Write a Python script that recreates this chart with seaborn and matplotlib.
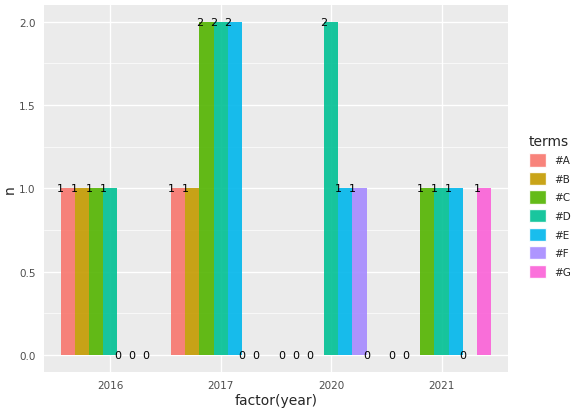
import matplotlib
matplotlib.use("Agg")
import matplotlib.pyplot as plt
import seaborn as sns
import pandas as pd
import numpy as np
from matplotlib.patches import Patch

years = ["2016", "2017", "2020", "2021"]
terms = ["#A", "#B", "#C", "#D", "#E", "#F", "#G"]
counts = {
    "2016": [1, 1, 1, 1, 0, 0, 0],
    "2017": [1, 1, 2, 2, 2, 0, 0],
    "2020": [0, 0, 0, 2, 1, 1, 0],
    "2021": [0, 0, 1, 1, 1, 0, 1],
}
colors = ["#F8766D", "#C49A00", "#53B400", "#00C094", "#00B6EB", "#A58AFF", "#FB61D7"]

rows = [(y, t, counts[y][i]) for y in years for i, t in enumerate(terms)]
df = pd.DataFrame(rows, columns=["year", "terms", "n"])

sns.set_theme(style="darkgrid", rc={"axes.facecolor": "#EBEBEB", "grid.color": "white"})
fig, ax = plt.subplots(figsize=(5.87, 4.14), dpi=100)
sns.barplot(data=df, x="year", y="n", hue="terms", order=years, hue_order=terms,
            palette=colors, width=0.9, saturation=1, alpha=0.9, ax=ax, legend=False,
            linewidth=0, edgecolor="none")
bw = 0.9 / len(terms)
for gi, y in enumerate(years):
    for i, v in enumerate(counts[y]):
        x = gi - 0.45 + i * bw
        ax.text(x, v, str(v), ha="center", va="center", fontsize=8, color="black")
ax.set_ylim(-0.1, 2.1)
ax.set_yticks([0, 0.5, 1.0, 1.5, 2.0])
ax.set_yticklabels(["0.0", "0.5", "1.0", "1.5", "2.0"])
ax.set_xlim(-0.6, 3.6)
ax.set_xlabel("factor(year)", fontsize=10, labelpad=2)
ax.set_ylabel("n", fontsize=10, labelpad=2)
ax.tick_params(labelsize=7.5, colors="#4D4D4D", length=2.5)
ax.grid(True, which="major", linewidth=1)
ax.set_yticks([0.25, 0.75, 1.25, 1.75], minor=True)
ax.grid(True, which="minor", axis="y", linewidth=0.5, color="white")
ax.tick_params(which="minor", length=0)
for s in ax.spines.values():
    s.set_visible(False)
handles = [Patch(facecolor=c, alpha=0.9, label=t) for c, t in zip(colors, terms)]
leg = fig.legend(handles=handles, title="terms", loc="center left", bbox_to_anchor=(0.885, 0.5),
                 frameon=False, fontsize=7.5, title_fontsize=10, handlelength=1.6, handleheight=1.6)
leg._legend_box.align = "left"
fig.subplots_adjust(left=0.075, right=0.865, top=0.985, bottom=0.1)
fig.savefig("out.png", dpi=100)
